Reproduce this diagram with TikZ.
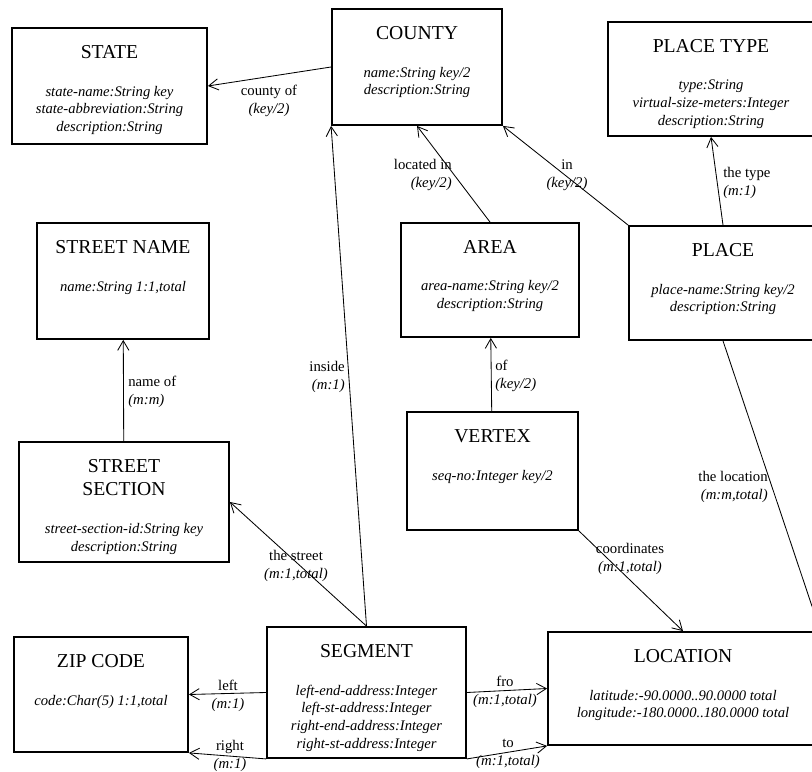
\documentclass[tikz,border=0pt]{standalone}
\usepackage{fontspec}
\setmainfont{Liberation Serif}
\usetikzlibrary{arrows.meta,positioning}
\tikzset{
  ent/.style={draw=black, line width=1.3pt, inner sep=0pt},
  ttl/.style={inner sep=0pt, align=center, font=\fontsize{14}{16.5}\selectfont},
  att/.style={inner sep=0pt, align=center, font=\fontsize{10.4}{12.6}\selectfont\itshape},
  lbl/.style={inner sep=0pt, align=center, font=\fontsize{10.5}{12.8}\selectfont},
  arr/.style={-{Straight Barb[length=2.4mm,width=2.8mm]}, line width=0.6pt}
}

\begin{document}
\begin{tikzpicture}[x=0.25mm, y=-0.25mm, node distance=4.5mm and 4mm]
  \clip (0,0) rectangle (812,772);
  \node[ent, minimum width=48.75mm, minimum height=29mm] (state) at (109.5,86) {};
  \node[ttl, below=of state.north] (state-t) {STATE};
  \node[att, below=6.7mm of state-t] (state-a)
    {state-name:String key\\state-abbreviation:String\\description:String};
  \node[ent, minimum width=42.5mm, minimum height=29mm] (county) at (417,67) {};
  \node[ttl, below=of county.north] (county-t) {COUNTY};
  \node[att, below=6.7mm of county-t] (county-a)
    {name:String key/2\\description:String};
  \node[ent, minimum width=51.5mm, minimum height=28.5mm] (ptype) at (711,79) {};
  \node[ttl, below=of ptype.north] (ptype-t) {PLACE TYPE};
  \node[att, below=6.7mm of ptype-t] (ptype-a)
    {type:String\\virtual-size-meters:Integer\\description:String};
  \node[ent, minimum width=43mm, minimum height=29mm] (sname) at (123,281) {};
  \node[ttl, below=of sname.north] (sname-t) {STREET NAME};
  \node[att, below=6.7mm of sname-t] (sname-a) {name:String 1:1,total};
  \node[ent, minimum width=44.5mm, minimum height=28.5mm] (area) at (490,280) {};
  \node[ttl, below=of area.north] (area-t) {AREA};
  \node[att, below=6.7mm of area-t] (area-a)
    {area-name:String key/2\\description:String};
  \node[ent, minimum width=47mm, minimum height=28.5mm] (place) at (723,283) {};
  \node[ttl, below=of place.north] (place-t) {PLACE};
  \node[att, below=6.7mm of place-t] (place-a)
    {place-name:String key/2\\description:String};
  \node[ent, minimum width=42.75mm, minimum height=29.5mm] (vertex) at (492.5,471) {};
  \node[ttl, below=of vertex.north] (vertex-t) {VERTEX};
  \node[att, below=6.7mm of vertex-t] (vertex-a) {seq-no:Integer key/2};
  \node[ent, minimum width=52.5mm, minimum height=30mm] (sect) at (124,502) {};
  \node[ttl, below=of sect.north] (sect-t) {STREET\\SECTION};
  \node[att, below=6.7mm of sect-t] (sect-a)
    {street-section-id:String key\\description:String};
  \node[ent, minimum width=43.5mm, minimum height=28.75mm] (zip) at (101,694.5) {};
  \node[ttl, below=of zip.north] (zip-t) {ZIP CODE};
  \node[att, below=6.7mm of zip-t] (zip-a) {code:Char(5) 1:1,total};
  \node[ent, minimum width=49.75mm, minimum height=32.75mm] (seg) at (366.5,692.5) {};
  \node[ttl, below=of seg.north] (seg-t) {SEGMENT};
  \node[att, below=6.7mm of seg-t] (seg-a)
    {left-end-address:Integer\\left-st-address:Integer\\right-end-address:Integer\\right-st-address:Integer};
  \node[ent, minimum width=67.5mm, minimum height=28.25mm] (loc) at (683,688.5) {};
  \node[ttl, below=of loc.north] (loc-t) {LOCATION};
  \node[att, below=6.7mm of loc-t] (loc-a)
    {latitude:-90.0000..90.0000 total\\longitude:-180.0000..180.0000 total};
  \coordinate (locin) at (822,636);

  \draw[arr] (county.west) -- (state.east);
  \draw[arr] (seg.north) -- (county.south west);
  \draw[arr] (area.north) -- (county.south);
  \draw[arr] (place.north west) -- (county.south east);
  \draw[arr] (place.north) -- (ptype.south);
  \draw[arr] (vertex) -- (area);
  \draw[arr] (sect) -- (sname);
  \draw[arr] (seg.north) -- (sect.east);
  \draw[arr] (seg.west) -- (zip.east);
  \draw[arr] (seg.south west) -- (zip.south east);
  \draw[arr] (seg.east) -- (loc.west);
  \draw[arr] (seg.south east) -- (loc.south west);
  \draw[arr] (vertex.south east) -- (loc.north);
  \draw[arr] (place.south) -- (locin);

  \node[lbl] (l-county) at (269,101) {county of\\\textit{(key/2)}};
  \node[lbl, align=right, anchor=east] (l-located) at (452,175) {located in\\\textit{(key/2)}};
  \node[lbl] (l-in) at (567,175) {in\\\textit{(key/2)}};
  \node[lbl, align=left, anchor=west] (l-type) at (723,183) {the type\\\textit{(m:1)}};
  \node[lbl, align=right, anchor=east] (l-inside) at (345,377) {inside\\\textit{(m:1)}};
  \node[lbl, align=left, anchor=west] (l-nameof) at (128,392) {name of\\\textit{(m:m)}};
  \node[lbl, align=left, anchor=west] (l-of) at (495,376) {of\\\textit{(key/2)}};
  \node[lbl] (l-street) at (296,566) {the street\\\textit{(m:1,total)}};
  \node[lbl] (l-left) at (228,696) {left\\\textit{(m:1)}};
  \node[lbl] (l-right) at (230,756) {right\\\textit{(m:1)}};
  \node[lbl] (l-fro) at (505,692) {fro\\\textit{(m:1,total)}};
  \node[lbl] (l-to) at (508,754) {to\\\textit{(m:1,total)}};
  \node[lbl] (l-coord) at (630,559) {coordinates\\\textit{(m:1,total)}};
  \node[lbl, align=right, anchor=east] (l-loc) at (768,487) {the location\\\textit{(m:m,total)}};
\end{tikzpicture}
\end{document}
